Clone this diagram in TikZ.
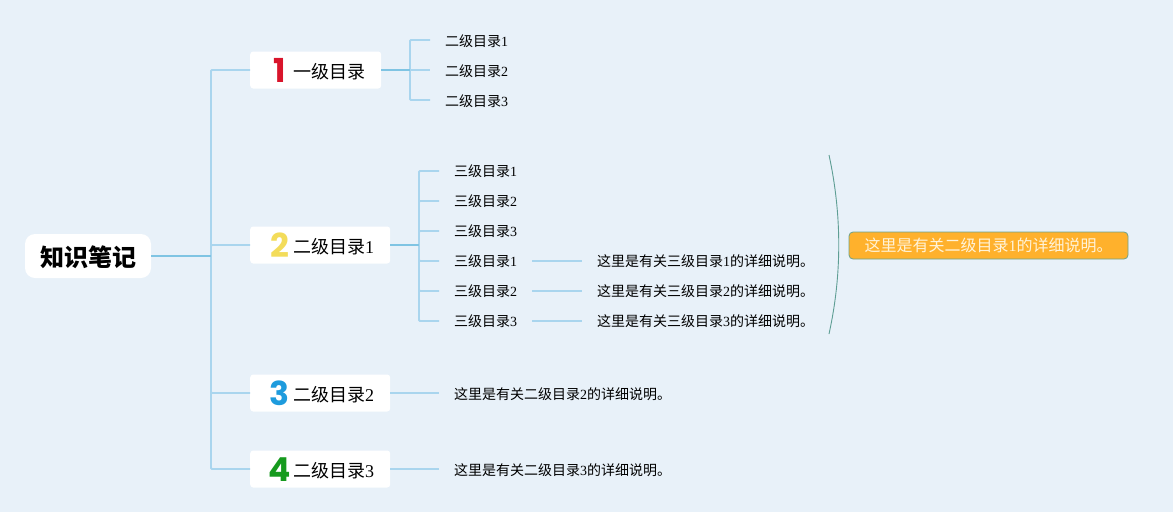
\documentclass[tikz,border=0pt]{standalone}
\usepackage{fontspec}
\usepackage{xcolor}
\setmainfont{Liberation Serif}
\newfontfamily\cjk{Noto Sans CJK SC}
\newfontfamily\iconfont{Poppins}[BoldFont=* Bold]
\definecolor{pagebg}{HTML}{E8F1F9}
\definecolor{trunk}{HTML}{7FC4E3}
\definecolor{twig}{HTML}{A9D5EE}
\definecolor{tagred}{HTML}{D9152B}
\definecolor{tagyellow}{HTML}{F3DC5A}
\definecolor{tagblue}{HTML}{1E9BDD}
\definecolor{taggreen}{HTML}{169A1E}
\definecolor{notefill}{HTML}{FFB12C}
\definecolor{noteline}{HTML}{6EA28A}
\definecolor{notetext}{HTML}{FFF3D8}
\definecolor{bracecol}{HTML}{5E9E94}
\newcommand{\numtag}[2]{\raisebox{-3.5pt}[0pt][0pt]{\makebox[27pt][c]{\color{#1}\fontsize{33}{33}\iconfont\bfseries #2}}}
\tikzset{
  topic/.style={fill=white, rounded corners=3pt, anchor=west, inner xsep=16pt, inner ysep=0pt, minimum height=37pt, text height=17pt, text depth=0pt, font=\fontsize{18}{18}\selectfont},
  leaf/.style={anchor=west, inner xsep=15pt, inner ysep=2pt, text height=12pt, text depth=0pt, font=\fontsize{14}{14}\selectfont},
  subleaf/.style={leaf, text height=11pt},
  trunkline/.style={draw=trunk, line width=2pt},
  twigline/.style={draw=twig, line width=1.8pt, rounded corners=1pt}
}

\begin{document}
\begin{tikzpicture}[x=1pt,y=-1pt]
\path[fill=pagebg, use as bounding box] (0,0) rectangle (1173,512);

\node[fill=white, rounded corners=10pt, minimum width=126pt, minimum height=44pt, inner sep=0pt, text height=20pt, text depth=0pt, font=\fontsize{24}{24}\selectfont] (K) at (88,256) {\cjk\bfseries 知识笔记};

\node[topic] (A) at (250,70) {\numtag{tagred}{1}{\cjk 一级目录}};
\node[topic] (B) at (250,245) {\numtag{tagyellow}{2}{\cjk 二级目录}1};
\node[topic] (C) at (250,393) {\numtag{tagblue}{3}{\cjk 二级目录}2};
\node[topic] (D) at (250,469) {\numtag{taggreen}{4}{\cjk 二级目录}3};

\node[leaf] (A1) at (430,40) {{\cjk 二级目录}1};
\node[leaf] (A2) at (430,70) {{\cjk 二级目录}2};
\node[leaf] (A3) at (430,100) {{\cjk 二级目录}3};

\node[subleaf] (B1) at (439,171) {{\cjk 三级目录}1};
\node[subleaf] (B2) at (439,201) {{\cjk 三级目录}2};
\node[subleaf] (B3) at (439,231) {{\cjk 三级目录}3};
\node[subleaf] (B4) at (439,261) {{\cjk 三级目录}1};
\node[subleaf] (B5) at (439,291) {{\cjk 三级目录}2};
\node[subleaf] (B6) at (439,321) {{\cjk 三级目录}3};

\node[subleaf] (E4) at (582,261) {{\cjk 这里是有关三级目录}1{\cjk 的详细说明。}};
\node[subleaf] (E5) at (582,291) {{\cjk 这里是有关三级目录}2{\cjk 的详细说明。}};
\node[subleaf] (E6) at (582,321) {{\cjk 这里是有关三级目录}3{\cjk 的详细说明。}};

\node[leaf] (C1) at (439,393) {{\cjk 这里是有关二级目录}2{\cjk 的详细说明。}};
\node[leaf] (D1) at (439,469) {{\cjk 这里是有关二级目录}3{\cjk 的详细说明。}};

\node[fill=notefill, draw=noteline, line width=0.8pt, rounded corners=4pt, minimum width=279pt, minimum height=27pt, inner sep=0pt, text=notetext, font=\fontsize{16}{16}\selectfont] (N) at (988.5,245.5) {{\cjk 这里是有关二级目录}1{\cjk 的详细说明。}};

\coordinate (J) at (211,256);
\coordinate (JA) at (410,70);
\coordinate (JB) at (419,245);
\coordinate (P) at (829,155);
\coordinate (Q) at (829,334);

\draw[twigline] (J) |- (A);
\draw[twigline] (J) |- (B);
\draw[twigline] (J) |- (C);
\draw[twigline] (J) |- (D);
\draw[trunkline] (K) -- (J);

\draw[twigline] (JA) |- (A1);
\draw[twigline] (JA) -- (A2);
\draw[twigline] (JA) |- (A3);
\draw[trunkline] (A) -- (JA);

\draw[twigline] (JB) |- (B1);
\draw[twigline] (JB) |- (B2);
\draw[twigline] (JB) |- (B3);
\draw[twigline] (JB) |- (B4);
\draw[twigline] (JB) |- (B5);
\draw[twigline] (JB) |- (B6);
\draw[trunkline] (B) -- (JB);

\draw[twigline] (B4) -- (E4);
\draw[twigline] (B5) -- (E5);
\draw[twigline] (B6) -- (E6);
\draw[twigline] (C) -- (C1);
\draw[twigline] (D) -- (D1);

\draw[draw=bracecol, line width=0.9pt] (P) .. controls (842,215) and (842,275) .. (Q);
\end{tikzpicture}
\end{document}
